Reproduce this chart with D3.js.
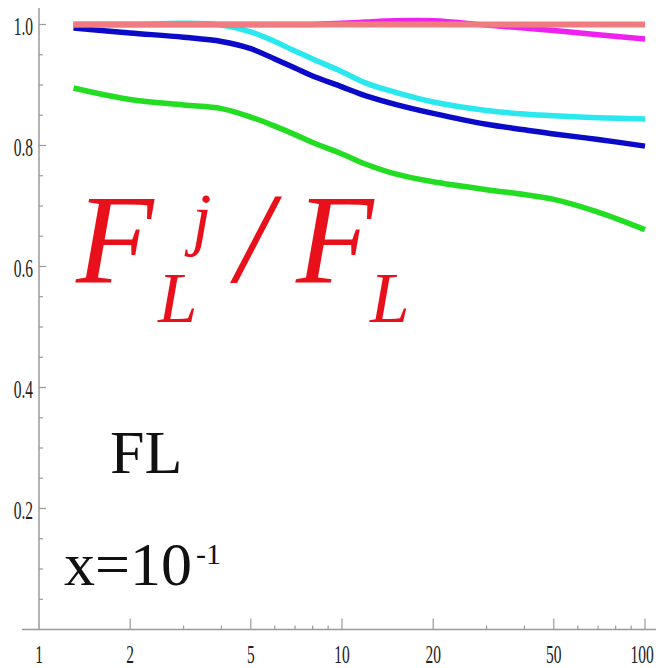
<!DOCTYPE html>
<html><head><meta charset="utf-8">
<script src="https://cdn.jsdelivr.net/npm/d3@7"></script>
<style>body{margin:0;background:#fff}svg{display:block}text{font-family:'Liberation Serif','Times New Roman',serif}</style>
</head><body>
<script>
const xGrid   = [1.3, 2, 3, 4, 5, 6, 7, 8, 10, 12, 15, 20, 30, 40, 50, 70, 100];
const pink    = [1.0, 1.0, 1.0, 1.0, 1.0, 1.0, 1.0, 1.0, 1.0, 1.0, 1.0, 1.0, 1.0, 1.0, 1.0, 1.0, 1.0];
const magenta = [1.0, 1.0, 1.0, 1.0, 1.0, 1.0, 1.0, 1.0, 1.002, 1.004, 1.006, 1.006, 0.999, 0.994, 0.990, 0.983, 0.976];
const cyan    = [1.0, 1.0, 1.002, 0.999, 0.988, 0.972, 0.956, 0.943, 0.922, 0.903, 0.888, 0.872, 0.858, 0.852, 0.849, 0.846, 0.844];
const blue    = [0.994, 0.986, 0.979, 0.972, 0.960, 0.943, 0.928, 0.915, 0.897, 0.882, 0.868, 0.853, 0.835, 0.826, 0.819, 0.810, 0.799];
const green   = [0.895, 0.876, 0.867, 0.861, 0.847, 0.832, 0.818, 0.805, 0.786, 0.769, 0.753, 0.740, 0.727, 0.719, 0.711, 0.690, 0.661];
const xMajor  = [1, 2, 5, 10, 20, 50, 100];
const xMinor  = [3, 4, 6, 7, 8, 9, 30, 40, 60, 70, 80, 90];
const yMajor  = [0.2, 0.4, 0.6, 0.8, 1.0];
const yMinor  = [0.05,0.1,0.15,0.25,0.3,0.35,0.45,0.5,0.55,0.65,0.7,0.75,0.85,0.9,0.95];

const W = 661, H = 668;
const svg = d3.select("body").append("svg").attr("width", W).attr("height", H);
const x = d3.scaleLog().domain([1, 100]).range([39, 645]);
const y = d3.scaleLinear().domain([0, 1]).range([629.5, 24.5]);
const axisCol = "#9a9a9a";

svg.append("line").attr("x1", 22).attr("x2", 656).attr("y1", y(0)).attr("y2", y(0))
  .attr("stroke", axisCol).attr("stroke-width", 1.5);
svg.append("line").attr("x1", x(1)).attr("x2", x(1)).attr("y1", 8).attr("y2", y(0))
  .attr("stroke", axisCol).attr("stroke-width", 1.5);

svg.selectAll(".xM").data(xMajor.slice(1)).enter().append("line")
  .attr("x1", d => x(d)).attr("x2", d => x(d)).attr("y1", y(0)).attr("y2", y(0) - 11)
  .attr("stroke", axisCol).attr("stroke-width", 1.2);
svg.selectAll(".xm").data(xMinor).enter().append("line")
  .attr("x1", d => x(d)).attr("x2", d => x(d)).attr("y1", y(0)).attr("y2", y(0) - 4)
  .attr("stroke", axisCol).attr("stroke-width", 1.2);
svg.selectAll(".xl").data(xMajor).enter().append("text")
  .attr("transform", d => `translate(${x(d) - (d === 100 ? 3 : 0)},663) scale(0.62,1)`)
  .attr("text-anchor", "middle").attr("font-size", 25).attr("fill", "#222").text(d => d);

svg.selectAll(".yM").data(yMajor).enter().append("line")
  .attr("x1", x(1)).attr("x2", x(1) + 7).attr("y1", d => y(d)).attr("y2", d => y(d))
  .attr("stroke", axisCol).attr("stroke-width", 1.2);
svg.selectAll(".ym").data(yMinor).enter().append("line")
  .attr("x1", x(1)).attr("x2", x(1) + 4).attr("y1", d => y(d)).attr("y2", d => y(d))
  .attr("stroke", axisCol).attr("stroke-width", 1.2);
svg.selectAll(".yl").data(yMajor).enter().append("text")
  .attr("transform", d => `translate(33,${y(d) + 10}) scale(0.62,1)`)
  .attr("text-anchor", "end").attr("font-size", 25).attr("fill", "#222").text(d => d.toFixed(1));

const series = [
  {v: green, c: "#22dd22", w: 5.5},
  {v: blue, c: "#0a0ac8", w: 5.5},
  {v: cyan, c: "#2ae8ee", w: 5.5},
  {v: magenta, c: "#ee22ee", w: 5.5},
  {v: pink, c: "#f07c82", w: 6}
];
const line = d3.line().x((d, i) => x(xGrid[i])).y(d => y(d)).curve(d3.curveCatmullRom.alpha(0.5));
series.forEach(s => {
  svg.append("path").attr("d", line(s.v)).attr("fill", "none")
    .attr("stroke", s.c).attr("stroke-width", s.w);
});

const red = "#e8101a";
function t(txt, px, py, size, italic, col) {
  svg.append("text").attr("x", px).attr("y", py)
    .attr("font-size", size).attr("font-style", italic ? "italic" : "normal")
    .attr("fill", col).text(txt);
}
t("F", 76, 282, 127, true, red);
t("j", 192, 242, 70, true, red);
t("L", 158, 322, 71, true, red);
t("/", 236, 282, 130, true, red);
t("F", 296, 282, 127, true, red);
t("L", 370, 322, 71, true, red);

t("FL", 110, 473, 62, false, "#111");
t("x=10", 64, 585, 62, false, "#111");
t("-1", 196, 564, 30, false, "#111");
</script>
</body></html>
